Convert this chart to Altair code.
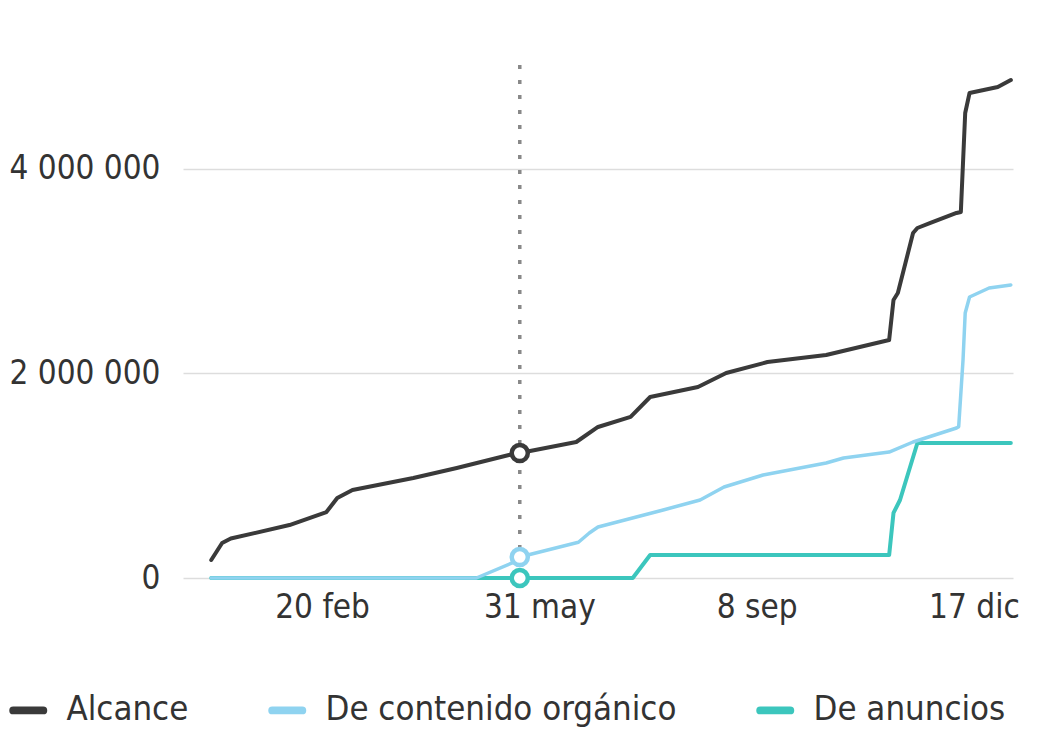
import altair as alt
import pandas as pd

# ---- data ----
alc_dates = ["2021-12-31", "2022-01-05", "2022-01-09", "2022-02-05", "2022-02-22", "2022-02-27",
             "2022-03-06", "2022-04-03", "2022-04-23", "2022-05-17", "2022-05-22", "2022-06-17",
             "2022-06-27", "2022-07-12", "2022-07-21", "2022-08-12", "2022-08-25", "2022-09-13",
             "2022-10-10", "2022-11-08", "2022-11-10", "2022-11-12", "2022-11-19", "2022-11-21",
             "2022-11-27", "2022-12-09", "2022-12-11", "2022-12-13", "2022-12-15", "2022-12-28",
             "2023-01-03"]
alc_vals = [176000, 342000, 386000, 518000, 645000, 782000,
            861000, 978000, 1076000, 1203000, 1222000, 1330000,
            1477000, 1575000, 1770000, 1868000, 2005000, 2112000,
            2181000, 2328000, 2719000, 2787000, 3374000, 3423000,
            3472000, 3570000, 3580000, 4548000, 4743000, 4802000,
            4870000]

org_dates = ["2021-12-31", "2022-05-02", "2022-05-21", "2022-05-22", "2022-06-18", "2022-06-23",
             "2022-06-27", "2022-07-27", "2022-08-13", "2022-08-24", "2022-09-11", "2022-10-10",
             "2022-10-18", "2022-11-08", "2022-11-19", "2022-12-09", "2022-12-10", "2022-12-12",
             "2022-12-13", "2022-12-15", "2022-12-24", "2023-01-03"]
org_vals = [0, 0, 170000, 205000, 350000, 440000,
            499000, 665000, 763000, 890000, 1007000, 1125000,
            1174000, 1232000, 1330000, 1467000, 1480000, 2132000,
            2592000, 2748000, 2836000, 2866000]

ads_dates = ["2021-12-31", "2022-07-13", "2022-07-21", "2022-11-08", "2022-11-10", "2022-11-13",
             "2022-11-21", "2023-01-03"]
ads_vals = [0, 0, 225000, 225000, 636000, 763000, 1320000, 1320000]

series = ["Alcance", "De contenido orgánico", "De anuncios"]
colors = ["#3a3a3a", "#8fd3f0", "#3cc6bd"]

marker_date = "2022-05-22"
marker_vals = [1222000, 205000, 0]

tick_dates = [(2022, 2, 20), (2022, 5, 31), (2022, 9, 8), (2022, 12, 17)]
y_ticks = [0, 2000000, 4000000]

# ---- tables ----
rows = []
for name, ds, vs in zip(series, [alc_dates, org_dates, ads_dates], [alc_vals, org_vals, ads_vals]):
    for d, v in zip(ds, vs):
        rows.append({"date": d, "value": v, "series": name})
df = pd.DataFrame(rows)
mk = pd.DataFrame({"date": [marker_date] * 3, "value": marker_vals, "series": series})

FONT = "DejaVu Sans Condensed, DejaVu Sans, sans-serif"
TXT = "#333333"
FS = 33

xscale = alt.Scale(type="utc",
                   domain=[alt.DateTime(year=2021, month=12, date=18, utc=True),
                           alt.DateTime(year=2023, month=1, date=4, utc=True)])
yscale = alt.Scale(domain=[0, 5066000], nice=False, zero=True)
cscale = alt.Scale(domain=series, range=colors)

month_expr = "['ene','feb','mar','abr','may','jun','jul','ago','sep','oct','nov','dic']"
xaxis = alt.Axis(values=[alt.DateTime(year=y, month=m, date=d, utc=True) for y, m, d in tick_dates],
                 labelExpr=f"utcdate(datum.value) + ' ' + {month_expr}[utcmonth(datum.value)]",
                 grid=False, domain=False, ticks=False, title=None,
                 labelFont=FONT, labelFontSize=FS, labelColor=TXT, labelPadding=13,
                 labelAlign="center", labelLimit=0, labelOverlap=False)
yaxis = alt.Axis(values=y_ticks,
                 labelExpr="datum.value == 0 ? '0' : format(datum.value / 1000000, 'd') + ' 000 000'",
                 grid=True, gridColor="#dddddd", gridWidth=1.5, domain=False, ticks=False, title=None,
                 labelFont=FONT, labelFontSize=FS, labelColor=TXT, labelPadding=23, labelLimit=0)

legend = alt.Legend(title=None, orient="none", legendX=-172, legendY=633, direction="horizontal",
                    labelFont=FONT, labelFontSize=34.5, labelColor=TXT, labelLimit=0,
                    symbolType="M-1,-0.133L1,-0.133A0.133,0.133 0 0 1 1,0.133L-1,0.133A0.133,0.133 0 0 1 -1,-0.133Z",
                    symbolSize=900, symbolStrokeWidth=4, labelOffset=21, columnPadding=73)

base = alt.Chart(df)

def line_layer(name, width):
    return base.transform_filter(alt.datum.series == name).mark_line(
        strokeWidth=width, strokeJoin="round", strokeCap="round", interpolate="linear"
    ).encode(
        x=alt.X("date:T", scale=xscale, axis=xaxis),
        y=alt.Y("value:Q", scale=yscale, axis=yaxis),
        color=alt.Color("series:N", scale=cscale, legend=legend, sort=series),
    )

rule = alt.Chart(pd.DataFrame({"date": [marker_date]})).mark_rule(
    strokeDash=[4, 11], color="#888888", strokeWidth=3.5
).encode(
    x=alt.X("date:T", scale=xscale),
    y=alt.datum(5017000),
    y2=alt.datum(0),
)

markers = alt.Chart(mk).mark_point(
    shape="circle", fill="white", fillOpacity=1, strokeWidth=4.5, size=260, opacity=1
).encode(
    x=alt.X("date:T", scale=xscale),
    y=alt.Y("value:Q", scale=yscale),
    stroke=alt.Stroke("series:N", scale=alt.Scale(domain=series, range=colors), legend=None),
)

chart = alt.layer(
    rule,
    line_layer("Alcance", 4),
    line_layer("De anuncios", 4),
    line_layer("De contenido orgánico", 3.5),
    markers,
).properties(
    width=830, height=518,
    autosize=alt.AutoSizeParams(type="none"),
    padding={"left": 175, "top": 52, "right": 20, "bottom": 150},
    background="white",
).configure_view(stroke=None)

chart.save("out.html", embed_options={"renderer": "svg", "actions": False})
